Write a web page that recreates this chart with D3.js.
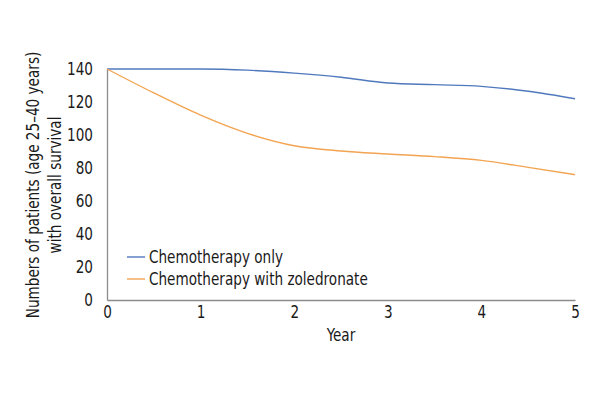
<!DOCTYPE html>
<html>
<head>
<meta charset="utf-8">
<script src="https://cdn.jsdelivr.net/npm/d3@7"></script>
<style>
  body { margin: 0; background: #fff; }
  svg text { font-family: "Liberation Sans Narrow", "DejaVu Sans Condensed", sans-serif; fill: #1a1a1a; }
</style>
</head>
<body>
<div id="chart"></div>
<script>
// survival counts, every half year
var years = [0, 0.5, 1, 1.5, 2, 2.5, 3, 3.5, 4, 4.5, 5];
var chemoOnly = [140, 140, 140, 139.3, 137.5, 135, 131.5, 130.5, 129.5, 126.5, 122];
var chemoZol = [140, 125.5, 112, 101, 93.5, 90.3, 88.5, 86.9, 84.6, 80.4, 76];
var seriesNames = ['Chemotherapy only', 'Chemotherapy with zoledronate'];
var seriesColors = ['#5079bd', '#f2a452'];
var xTicks = [0, 1, 2, 3, 4, 5];
var yTicks = [0, 20, 40, 60, 80, 100, 120, 140];

var width = 600, height = 400;
var margin = {left: 107, right: 25, top: 69, bottom: 100};
var squeeze = 0.84, fs = '18px';

var svg = d3.select('#chart').append('svg')
  .attr('width', width).attr('height', height);

var x = d3.scaleLinear().domain([0, 5]).range([margin.left, width - margin.right]);
var y = d3.scaleLinear().domain([0, 140]).range([height - margin.bottom, margin.top]);

// narrow the glyphs horizontally, keeping the anchor point
function narrow(sel) {
  sel.each(function() {
    var t = d3.select(this);
    var tx = +t.attr('x') || 0, ty = +t.attr('y') || 0;
    t.attr('x', 0).attr('y', 0)
      .attr('transform', 'translate(' + tx + ',' + ty + ') scale(' + squeeze + ',1)');
  });
}

var xAxis = d3.axisBottom(x).tickValues(xTicks).tickSize(0).tickPadding(5).tickFormat(d3.format('d'));
var yAxis = d3.axisLeft(y).tickValues(yTicks).tickSize(0).tickPadding(14).tickFormat(d3.format('d'));

var gx = svg.append('g').attr('transform', 'translate(0,' + y(0) + ')').call(xAxis);
var gy = svg.append('g').attr('transform', 'translate(' + x(0) + ',0)').call(yAxis);
[gx, gy].forEach(function(g) {
  g.select('.domain').attr('stroke', '#8c8c8c').attr('stroke-width', 1.3);
  g.selectAll('text').style('font-size', fs).attr('fill', '#1a1a1a').call(narrow);
});

var line = d3.line()
  .x(function(d, i) { return x(years[i]); })
  .y(function(d) { return y(d); })
  .curve(d3.curveMonotoneX);

[chemoOnly, chemoZol].forEach(function(s, i) {
  svg.append('path').datum(s)
    .attr('fill', 'none')
    .attr('stroke', seriesColors[i])
    .attr('stroke-width', 1.4)
    .attr('d', line);
});

// legend
var legend = svg.append('g');
seriesNames.forEach(function(name, i) {
  var ly = 257 + i * 22;
  legend.append('line')
    .attr('x1', 127).attr('x2', 145).attr('y1', ly).attr('y2', ly)
    .attr('stroke', seriesColors[i]).attr('stroke-width', 1.4);
  legend.append('text')
    .attr('x', 149).attr('y', ly).attr('dy', '0.35em')
    .style('font-size', fs).text(name).call(narrow);
});

// axis titles
svg.append('text')
  .attr('x', x(2.5)).attr('y', 341)
  .attr('text-anchor', 'middle').style('font-size', fs)
  .text('Year').call(narrow);

var yt = svg.append('text')
  .attr('transform', 'translate(39,185) rotate(-90) scale(' + squeeze + ',1)')
  .attr('text-anchor', 'middle').style('font-size', fs);
yt.append('tspan').attr('x', 0).attr('dy', 0).text('Numbers of patients (age 25\u201340 years)');
yt.append('tspan').attr('x', 0).attr('dy', '1.2em').text('with overall survival');
</script>
</body>
</html>
